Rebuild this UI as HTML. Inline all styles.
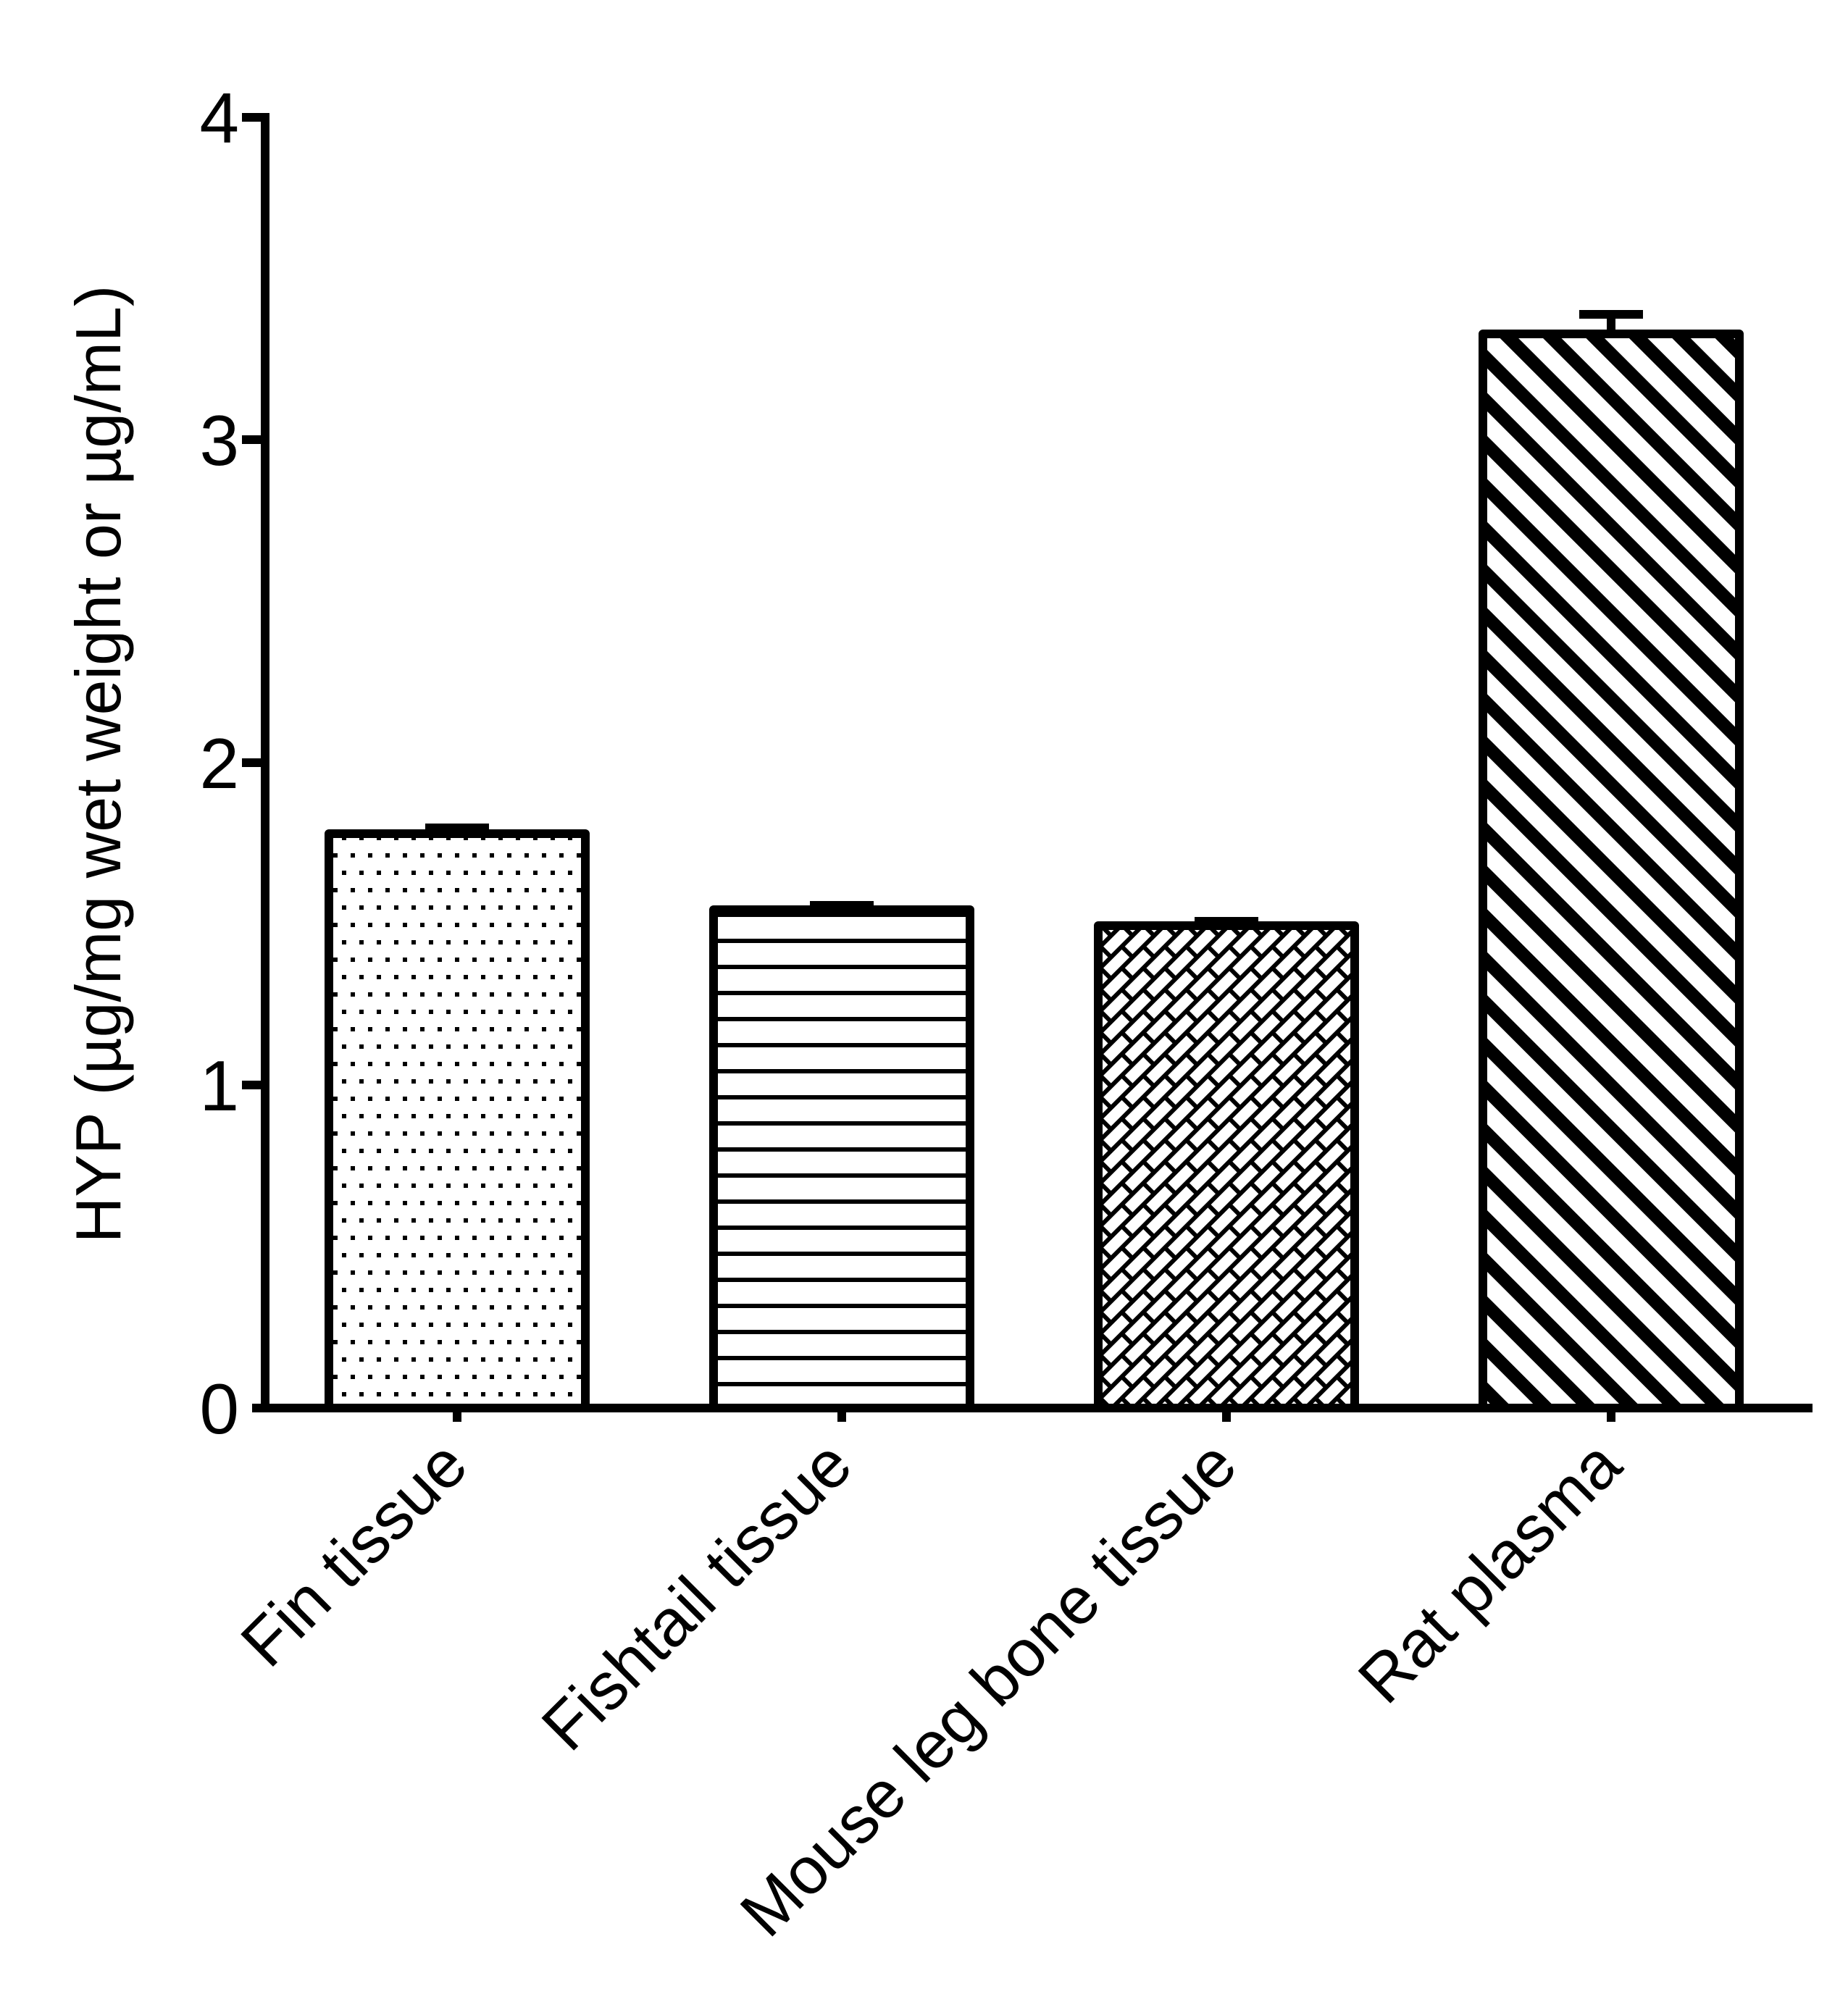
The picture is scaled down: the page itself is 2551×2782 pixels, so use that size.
<!DOCTYPE html>
<html><head><meta charset="utf-8"><style>html,body{margin:0;padding:0;background:#fff}svg{display:block}</style></head>
<body>
<svg width="2551" height="2782" viewBox="0 0 2551 2782" xmlns="http://www.w3.org/2000/svg" font-family="Liberation Sans, Arial, sans-serif">
<defs>
<pattern id="dots" patternUnits="userSpaceOnUse" width="24" height="48" x="4" y="1898">
<rect x="0" y="0" width="6" height="6" fill="#000"/>
<rect x="12" y="24" width="6" height="6" fill="#000"/>
</pattern>
<pattern id="hlines" patternUnits="userSpaceOnUse" width="40" height="36" x="0" y="1908">
<rect x="0" y="0" width="40" height="6" fill="#000"/>
</pattern>
<pattern id="brick" patternUnits="userSpaceOnUse" width="42" height="42" patternTransform="rotate(-45)">
<rect x="0" y="0" width="42" height="6" fill="#000"/>
<rect x="0" y="21" width="42" height="6" fill="#000"/>
<rect x="0" y="0" width="6" height="21" fill="#000"/>
<rect x="21" y="21" width="6" height="21" fill="#000"/>
</pattern>
<pattern id="diag" patternUnits="userSpaceOnUse" width="42" height="42" patternTransform="rotate(-45)">
<rect x="0" y="0" width="18" height="42" fill="#000"/>
</pattern>
</defs>
<rect width="2551" height="2782" fill="#fff"/>

<g stroke="#000" stroke-width="12" stroke-linejoin="round">
<rect x="454" y="1151" width="354" height="793" fill="url(#dots)"/>
<rect x="985" y="1256" width="354" height="688" fill="url(#hlines)"/>
<rect x="1516" y="1278" width="354" height="666" fill="url(#brick)"/>
<rect x="2047" y="461" width="354" height="1483" fill="url(#diag)"/>
</g>
<g stroke="#000" stroke-width="12">
<line x1="587" y1="1143" x2="675" y2="1143"/>
<line x1="1118" y1="1250" x2="1206" y2="1250"/>
<line x1="1649" y1="1272" x2="1737" y2="1272"/>
<line x1="2224" y1="461" x2="2224" y2="434"/>
<line x1="2180" y1="434" x2="2268" y2="434"/>
</g>

<g stroke="#000" stroke-width="12">
<line x1="366" y1="156" x2="366" y2="1950"/>
<line x1="348" y1="1944" x2="2502" y2="1944"/>
<line x1="334" y1="162" x2="372" y2="162"/>
<line x1="334" y1="607" x2="372" y2="607"/>
<line x1="334" y1="1053" x2="372" y2="1053"/>
<line x1="334" y1="1498" x2="372" y2="1498"/>
<line x1="631" y1="1944" x2="631" y2="1963"/>
<line x1="1162" y1="1944" x2="1162" y2="1963"/>
<line x1="1693" y1="1944" x2="1693" y2="1963"/>
<line x1="2224" y1="1944" x2="2224" y2="1963"/>
</g>

<g font-size="98" text-anchor="end" fill="#000">
<text x="330" y="197">4</text>
<text x="330" y="642">3</text>
<text x="330" y="1088">2</text>
<text x="330" y="1533">1</text>
<text x="330" y="1979">0</text>
</g>

<text transform="translate(166,1055) rotate(-90)" font-size="88" text-anchor="middle">HYP (µg/mg wet weight or µg/mL)</text>

<g font-size="92" text-anchor="end">
<text transform="translate(650,2028) rotate(-45)">Fin tissue</text>
<text transform="translate(1181,2028) rotate(-45)">Fishtail tissue</text>
<text transform="translate(1712,2028) rotate(-45)">Mouse leg bone tissue</text>
<text transform="translate(2243,2028) rotate(-45)">Rat plasma</text>
</g>
</svg>
</body></html>
